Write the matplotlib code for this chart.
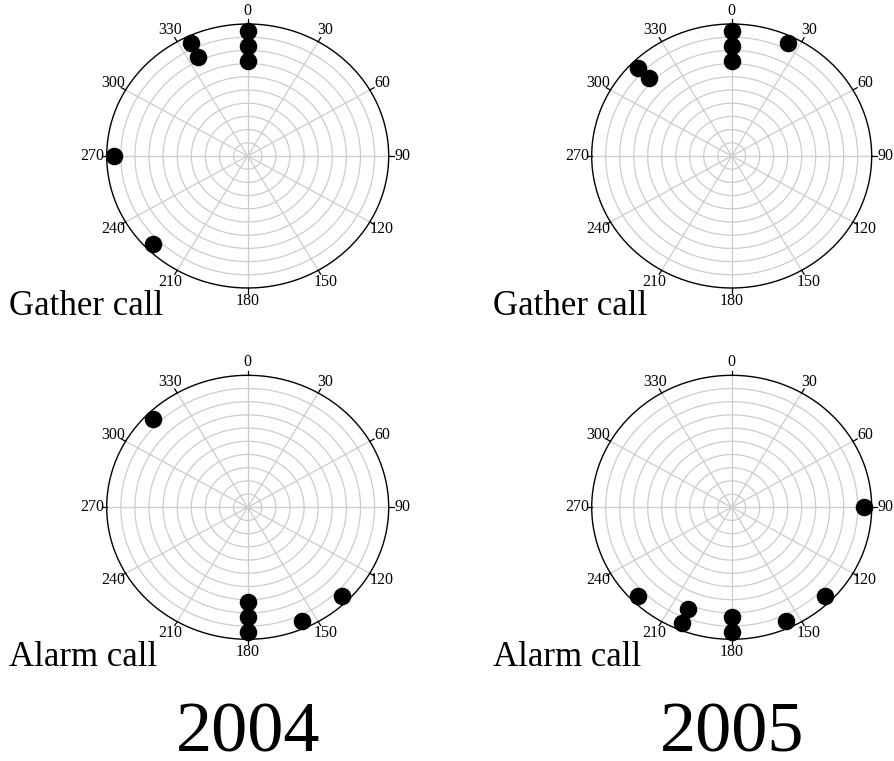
import numpy as np
import matplotlib
matplotlib.use("Agg")
from matplotlib import pyplot as plt

plt.rcParams['font.family'] = ['Liberation Serif', 'DejaVu Serif']

## directions in degrees (clockwise from north); repeats are stacked inward
gather_2004 = [0, 0, 0, 335, 335, 270, 225]
gather_2005 = [0, 0, 0, 25, 315, 315]
alarm_2004 = [315, 180, 180, 180, 156, 135]
alarm_2005 = [90, 135, 156, 180, 180, 202, 202, 225]

panel_data = [gather_2004, gather_2005, alarm_2004, alarm_2005]
panel_labels = ['Gather call', 'Gather call', 'Alarm call', 'Alarm call']
year_labels = ['2004', '2005']
tick_angles = np.arange(0, 360, 30)

W, H = 894, 761
fig = plt.figure(figsize=(W/100, H/100), dpi=100)

## pixel centres and radii of each circle (x, y from top, rx, ry)
centres = [(247.7, 156, 141, 132), (731.7, 156, 140, 132),
           (247.7, 507.3, 141, 132), (731.7, 507.3, 140, 132)]
lim = 1.3

def circular_panel(cx, cy, rx, ry, angles):
    w = 2*lim*rx; h = 2*lim*ry
    ax = fig.add_axes([(cx - w/2)/W, 1 - (cy + h/2)/H, w/W, h/H])
    ax.set_xlim(-lim, lim); ax.set_ylim(-lim, lim)
    ax.axis('off')
    t = np.linspace(0, 2*np.pi, 400)
    for r in np.arange(0.1, 0.95, 0.1):
        ax.plot(r*np.cos(t), r*np.sin(t), color='#cccccc', lw=0.9, zorder=1)
    for a in tick_angles:
        th = np.deg2rad(a)
        ax.plot([0, np.sin(th)], [0, np.cos(th)], color='#cccccc', lw=0.9, zorder=1)
        ax.plot([np.sin(th), 1.035*np.sin(th)], [np.cos(th), 1.035*np.cos(th)],
                color='k', lw=0.9, zorder=2)
        ax.text(1.1*np.sin(th), 1.1*np.cos(th), str(a), ha='center', va='center',
                fontsize=11.5)
    ax.plot(np.cos(t), np.sin(t), color='k', lw=1.0, zorder=2)
    seen = {}
    for a in angles:
        k = seen.get(a, 0); seen[a] = k + 1
        r = 0.945 - 0.114*k
        th = np.deg2rad(a)
        ax.scatter(r*np.sin(th), r*np.cos(th), s=135, color='k', zorder=3,
                   clip_on=False)
    return ax

for (cx, cy, rx, ry), angles in zip(centres, panel_data):
    circular_panel(cx, cy, rx, ry, angles)

## panel captions
for (x, y), lab in zip([(9, 315), (493, 315), (9, 666), (493, 666)], panel_labels):
    fig.text(x/W, 1 - y/H, lab, ha='left', va='baseline', fontsize=25)

for x, lab in zip([248.3, 732.5], year_labels):
    fig.text(x/W, 1 - 752/H, lab, ha='center', va='baseline', fontsize=52)

fig.savefig('out.png', dpi=100)
